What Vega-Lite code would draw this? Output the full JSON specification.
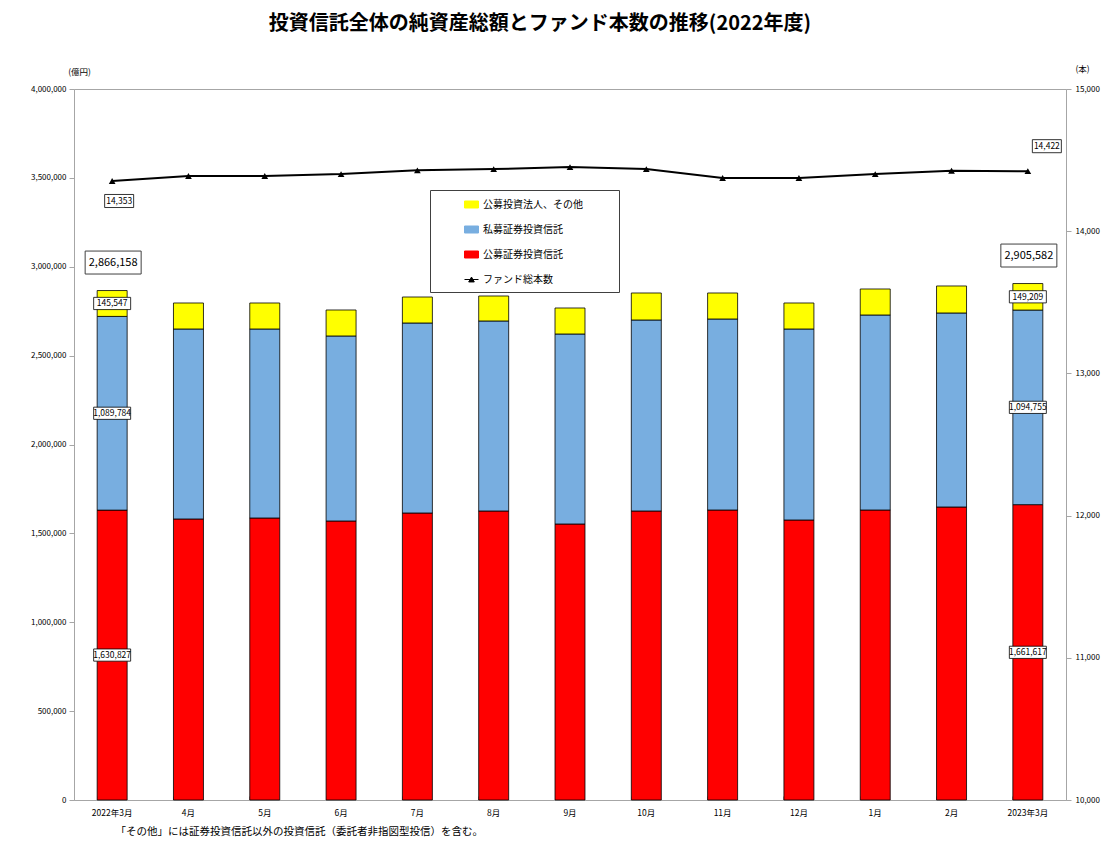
{
  "$schema": "https://vega.github.io/schema/vega-lite/v6.json",
  "width": 992,
  "height": 711,
  "autosize": {"type": "none"},
  "padding": {"left": 74, "top": 89, "right": 36, "bottom": 52},
  "background": "#ffffff",
  "title": {
    "text": "投資信託全体の純資産総額とファンド本数の推移(2022年度)",
    "fontSize": 20,
    "font": "Noto Sans CJK JP",
    "fontWeight": "bold",
    "color": "#000000",
    "anchor": "middle",
    "frame": "group",
    "dx": -30,
    "offset": 30
  },
  "config": {
    "view": {"stroke": "#A6A6A6", "strokeWidth": 1},
    "axis": {"labelFont": "Noto Sans CJK JP", "titleFont": "Noto Sans CJK JP", "labelColor": "#000", "titleColor": "#000", "domainColor": "#A6A6A6", "tickColor": "#A6A6A6", "grid": false},
    "legend": {"labelFont": "Noto Sans CJK JP", "titleFont": "Noto Sans CJK JP"},
    "text": {"font": "Noto Sans CJK JP"}
  },
  "datasets": {
    "bars": [
      {"month": "2022年3月", "series": "公募証券投資信託", "ord": 1, "value": 1630827},
      {"month": "2022年3月", "series": "私募証券投資信託", "ord": 2, "value": 1089784},
      {"month": "2022年3月", "series": "公募投資法人、その他", "ord": 3, "value": 145547},
      {"month": "4月", "series": "公募証券投資信託", "ord": 1, "value": 1581000},
      {"month": "4月", "series": "私募証券投資信託", "ord": 2, "value": 1068800},
      {"month": "4月", "series": "公募投資法人、その他", "ord": 3, "value": 146300},
      {"month": "5月", "series": "公募証券投資信託", "ord": 1, "value": 1586500},
      {"month": "5月", "series": "私募証券投資信託", "ord": 2, "value": 1063300},
      {"month": "5月", "series": "公募投資法人、その他", "ord": 3, "value": 146300},
      {"month": "6月", "series": "公募証券投資信託", "ord": 1, "value": 1569700},
      {"month": "6月", "series": "私募証券投資信託", "ord": 2, "value": 1040800},
      {"month": "6月", "series": "公募投資法人、その他", "ord": 3, "value": 146200},
      {"month": "7月", "series": "公募証券投資信託", "ord": 1, "value": 1614700},
      {"month": "7月", "series": "私募証券投資信託", "ord": 2, "value": 1068900},
      {"month": "7月", "series": "公募投資法人、その他", "ord": 3, "value": 146200},
      {"month": "8月", "series": "公募証券投資信託", "ord": 1, "value": 1625900},
      {"month": "8月", "series": "私募証券投資信託", "ord": 2, "value": 1069000},
      {"month": "8月", "series": "公募投資法人、その他", "ord": 3, "value": 140600},
      {"month": "9月", "series": "公募証券投資信託", "ord": 1, "value": 1552800},
      {"month": "9月", "series": "私募証券投資信託", "ord": 2, "value": 1068900},
      {"month": "9月", "series": "公募投資法人、その他", "ord": 3, "value": 146300},
      {"month": "10月", "series": "公募証券投資信託", "ord": 1, "value": 1625900},
      {"month": "10月", "series": "私募証券投資信託", "ord": 2, "value": 1074600},
      {"month": "10月", "series": "公募投資法人、その他", "ord": 3, "value": 151900},
      {"month": "11月", "series": "公募証券投資信託", "ord": 1, "value": 1631500},
      {"month": "11月", "series": "私募証券投資信託", "ord": 2, "value": 1074600},
      {"month": "11月", "series": "公募投資法人、その他", "ord": 3, "value": 146300},
      {"month": "12月", "series": "公募証券投資信託", "ord": 1, "value": 1575300},
      {"month": "12月", "series": "私募証券投資信託", "ord": 2, "value": 1074500},
      {"month": "12月", "series": "公募投資法人、その他", "ord": 3, "value": 146300},
      {"month": "1月", "series": "公募証券投資信託", "ord": 1, "value": 1631500},
      {"month": "1月", "series": "私募証券投資信託", "ord": 2, "value": 1097100},
      {"month": "1月", "series": "公募投資法人、その他", "ord": 3, "value": 146300},
      {"month": "2月", "series": "公募証券投資信託", "ord": 1, "value": 1648400},
      {"month": "2月", "series": "私募証券投資信託", "ord": 2, "value": 1091500},
      {"month": "2月", "series": "公募投資法人、その他", "ord": 3, "value": 151900},
      {"month": "2023年3月", "series": "公募証券投資信託", "ord": 1, "value": 1661617},
      {"month": "2023年3月", "series": "私募証券投資信託", "ord": 2, "value": 1094755},
      {"month": "2023年3月", "series": "公募投資法人、その他", "ord": 3, "value": 149209}
    ],
    "totals": [
      {"month": "2022年3月", "total": 2866158},
      {"month": "2023年3月", "total": 2905582}
    ],
    "funds": [
      {"month": "2022年3月", "funds": 14353},
      {"month": "4月", "funds": 14388},
      {"month": "5月", "funds": 14388},
      {"month": "6月", "funds": 14402},
      {"month": "7月", "funds": 14428},
      {"month": "8月", "funds": 14437},
      {"month": "9月", "funds": 14451},
      {"month": "10月", "funds": 14437},
      {"month": "11月", "funds": 14374},
      {"month": "12月", "funds": 14374},
      {"month": "1月", "funds": 14402},
      {"month": "2月", "funds": 14425},
      {"month": "2023年3月", "funds": 14422}
    ]
  },
  "encoding": {
    "x": {
      "field": "month", "type": "ordinal",
      "scale": {"domain": ["2022年3月","4月","5月","6月","7月","8月","9月","10月","11月","12月","1月","2月","2023年3月"], "paddingInner": 0.607, "paddingOuter": 0.3035},
      "axis": {
        "title": "「その他」には証券投資信託以外の投資信託（委託者非指図型投信）を含む。",
        "titleX": 41, "titleY": 31, "titleAlign": "left", "titleBaseline": "middle",
        "titleFontSize": 10.5, "titleFontWeight": "normal",
        "labelAngle": 0, "labelFontSize": 8.5, "labelPadding": 12,
        "bandPosition": 0, "tickSize": -4
      }
    }
  },
  "resolve": {"scale": {"y": "independent"}},
  "layer": [
    {
      "layer": [
        {
          "data": {"name": "bars"},
          "mark": {"type": "bar", "stroke": "#000000", "strokeWidth": 0.8},
          "encoding": {
            "y": {
              "field": "value", "type": "quantitative", "stack": "zero",
              "scale": {"domain": [0, 4000000]},
              "axis": {
                "title": "(億円)", "titleAngle": 0, "titleX": 5, "titleY": -18,
                "titleAlign": "center", "titleBaseline": "middle",
                "titleFontSize": 8.5, "titleFontWeight": "normal",
                "values": [0,500000,1000000,1500000,2000000,2500000,3000000,3500000,4000000],
                "labelExpr": "format(datum.value, ',')", "labelFontSize": 8, "tickSize": 5, "labelPadding": 3
              }
            },
            "color": {
              "field": "series", "type": "nominal",
              "scale": {
                "domain": ["公募投資法人、その他","私募証券投資信託","公募証券投資信託","ファンド総本数"],
                "range": ["#FFFF00","#78AEE0","#FF0000","#000000"]
              },
              "legend": {
                "orient": "none", "legendX": 356, "legendY": 101,
                "title": " ", "titleOrient": "right", "titlePadding": 29, "titleFontSize": 10,
                "strokeColor": "#404040", "fillColor": "#ffffff",
                "padding": 7, "rowPadding": 12,
                "labelFontSize": 10, "labelColor": "#000",
                "symbolSize": 196, "symbolOffset": 27, "labelOffset": 4,
                "encoding": {
                  "symbols": {
                    "shape": {"condition": {"test": "datum.value === 'ファンド総本数'", "value": "M-1,0H1M-0.4,0.35L0,-0.35L0.4,0.35Z"}, "value": "M-1,-0.5H1V0.5H-1Z"},
                    "stroke": {"value": "#000000"},
                    "strokeWidth": {"value": 1}
                  }
                }
              }
            },
            "order": {"field": "ord", "type": "quantitative"}
          }
        },
        {
          "data": {"name": "bars"},
          "transform": [
            {"filter": {"field": "month", "oneOf": ["2022年3月", "2023年3月"]}},
            {"stack": "value", "groupby": ["month"], "sort": [{"field": "ord", "order": "ascending"}], "as": ["v0", "v1"]},
            {"fold": ["v0", "v1"], "as": ["edge", "pos"]},
            {"aggregate": [{"op": "mean", "field": "pos", "as": "mid"}, {"op": "max", "field": "value", "as": "val"}], "groupby": ["month", "series"]}
          ],
          "encoding": {
            "y": {
              "field": "mid", "type": "quantitative",
              "axis": {
                "title": "(億円)", "titleAngle": 0, "titleX": 5, "titleY": -18,
                "titleAlign": "center", "titleBaseline": "middle",
                "titleFontSize": 8.5, "titleFontWeight": "normal",
                "values": [0,500000,1000000,1500000,2000000,2500000,3000000,3500000,4000000],
                "labelExpr": "format(datum.value, ',')", "labelFontSize": 8, "tickSize": 5, "labelPadding": 3
              }
            }
          },
          "layer": [
            {"mark": {"type": "point", "shape": "M-1,-0.33H1V0.33H-1Z", "size": 1369, "filled": true, "fill": "#ffffff", "stroke": "#000000", "strokeWidth": 0.8, "opacity": 1}},
            {"mark": {"type": "text", "fontSize": 8.5, "color": "#000000", "align": "center", "baseline": "middle"}, "encoding": {"text": {"field": "val", "type": "quantitative", "format": ","}}}
          ]
        },
        {
          "data": {"name": "totals"},
          "encoding": {
            "y": {
              "field": "total", "type": "quantitative",
              "axis": {
                "title": "(億円)", "titleAngle": 0, "titleX": 5, "titleY": -18,
                "titleAlign": "center", "titleBaseline": "middle",
                "titleFontSize": 8.5, "titleFontWeight": "normal",
                "values": [0,500000,1000000,1500000,2000000,2500000,3000000,3500000,4000000],
                "labelExpr": "format(datum.value, ',')", "labelFontSize": 8, "tickSize": 5, "labelPadding": 3
              }
            }
          },
          "layer": [
            {"mark": {"type": "point", "shape": "M-1,-0.41H1V0.41H-1Z", "size": 3136, "filled": true, "fill": "#ffffff", "stroke": "#404040", "strokeWidth": 1, "opacity": 1, "xOffset": 1, "yOffset": -28}},
            {"mark": {"type": "text", "fontSize": 11, "color": "#000000", "align": "center", "baseline": "middle", "dx": 1, "dy": -28}, "encoding": {"text": {"field": "total", "type": "quantitative", "format": ","}}}
          ]
        }
      ]
    },
    {
      "layer": [
        {
          "data": {"name": "funds"},
          "mark": {"type": "line", "strokeWidth": 2, "point": {"shape": "triangle-up", "filled": true, "size": 45}},
          "encoding": {
            "y": {
              "field": "funds", "type": "quantitative",
              "scale": {"domain": [10000, 15000]},
              "axis": {
                "orient": "right",
                "title": "(本)", "titleAngle": 0, "titleX": 16, "titleY": -21,
                "titleAlign": "center", "titleBaseline": "middle",
                "titleFontSize": 8.5, "titleFontWeight": "normal",
                "values": [10000, 11000, 12000, 13000, 14000, 15000],
                "labelExpr": "format(datum.value, ',')", "labelFontSize": 8, "tickSize": 5, "labelPadding": 4
              }
            },
            "color": {"datum": "ファンド総本数"}
          }
        },
        {
          "data": {"name": "funds"},
          "transform": [{"filter": {"field": "month", "equal": "2022年3月"}}],
          "encoding": {
            "y": {
              "field": "funds", "type": "quantitative",
              "axis": {
                "orient": "right",
                "title": "(本)", "titleAngle": 0, "titleX": 16, "titleY": -21,
                "titleAlign": "center", "titleBaseline": "middle",
                "titleFontSize": 8.5, "titleFontWeight": "normal",
                "values": [10000, 11000, 12000, 13000, 14000, 15000],
                "labelExpr": "format(datum.value, ',')", "labelFontSize": 8, "tickSize": 5, "labelPadding": 4
              }
            }
          },
          "layer": [
            {"mark": {"type": "point", "shape": "M-1,-0.45H1V0.45H-1Z", "size": 841, "filled": true, "fill": "#ffffff", "stroke": "#000000", "strokeWidth": 0.8, "opacity": 1, "xOffset": 7, "yOffset": 20}},
            {"mark": {"type": "text", "fontSize": 8.5, "color": "#000000", "align": "center", "baseline": "middle", "dx": 7, "dy": 20}, "encoding": {"text": {"field": "funds", "type": "quantitative", "format": ","}}}
          ]
        },
        {
          "data": {"name": "funds"},
          "transform": [{"filter": {"field": "month", "equal": "2023年3月"}}],
          "encoding": {
            "y": {
              "field": "funds", "type": "quantitative",
              "axis": {
                "orient": "right",
                "title": "(本)", "titleAngle": 0, "titleX": 16, "titleY": -21,
                "titleAlign": "center", "titleBaseline": "middle",
                "titleFontSize": 8.5, "titleFontWeight": "normal",
                "values": [10000, 11000, 12000, 13000, 14000, 15000],
                "labelExpr": "format(datum.value, ',')", "labelFontSize": 8, "tickSize": 5, "labelPadding": 4
              }
            }
          },
          "layer": [
            {"mark": {"type": "point", "shape": "M-1,-0.45H1V0.45H-1Z", "size": 841, "filled": true, "fill": "#ffffff", "stroke": "#000000", "strokeWidth": 0.8, "opacity": 1, "xOffset": 19, "yOffset": -25}},
            {"mark": {"type": "text", "fontSize": 8.5, "color": "#000000", "align": "center", "baseline": "middle", "dx": 19, "dy": -25}, "encoding": {"text": {"field": "funds", "type": "quantitative", "format": ","}}}
          ]
        }
      ]
    }
  ]
}
